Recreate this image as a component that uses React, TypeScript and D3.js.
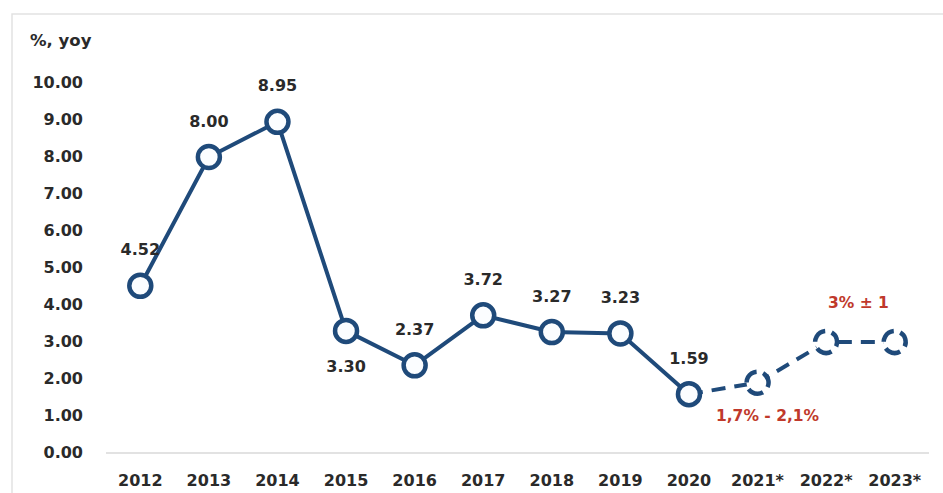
import React from "react";
import * as d3 from "d3";

const categories = ["2012","2013","2014","2015","2016","2017","2018","2019","2020","2021*","2022*","2023*"];
const actualYears = ["2012","2013","2014","2015","2016","2017","2018","2019","2020"];
const actualValues = [4.52, 8.0, 8.95, 3.3, 2.37, 3.72, 3.27, 3.23, 1.59];
const labelBelow = ["2015"];
const forecastYears = ["2020","2021*","2022*","2023*"];
const forecastValues = [1.59, 1.9, 3.0, 3.0];
const yTicks = [0,1,2,3,4,5,6,7,8,9,10];
const forecastNotes = [
  { text: "1,7% - 2,1%", from: "2021*", to: "2021*", value: 1.9, pos: "below" },
  { text: "3% ± 1", from: "2022*", to: "2023*", value: 3.0, pos: "above" },
];

const W = 943, H = 493;
const NAVY = "#1f4a7a";
const TXT = "#2a2a2a";
const RED = "#c0392b";
const FONT = "'DejaVu Sans', sans-serif";

export default function App() {
  const x = d3.scaleBand<string>().domain(categories).range([106, 929]).padding(0);
  const cx = (c: string) => (x(c) as number) + x.bandwidth() / 2;
  const y = d3.scaleLinear().domain([0, 10]).range([453, 83]);

  const line = d3.line<[string, number]>().x(d => cx(d[0])).y(d => y(d[1]));
  const actual = actualYears.map((c, i) => [c, actualValues[i]] as [string, number]);
  const forecast = forecastYears.map((c, i) => [c, forecastValues[i]] as [string, number]);

  return (
    <svg width={W} height={H} style={{ position: "absolute", left: 0, top: 0, background: "#fff" }} fontFamily={FONT}>
      <rect x={12} y={14} width={940} height={500} fill="#fff" stroke="#e2e2e2" strokeWidth={1.5} />
      <text x={30} y={46} fontSize={16.5} fontWeight="bold" fill={TXT}>%, yoy</text>
      {yTicks.map(t => (
        <text key={t} x={83} y={y(t)} textAnchor="end" dominantBaseline="middle" fontSize={16} fontWeight="bold" fill={TXT}>
          {d3.format(".2f")(t)}
        </text>
      ))}
      <line x1={106} x2={929} y1={y(0)} y2={y(0)} stroke="#d9d9d9" strokeWidth={1.5} />
      {categories.map(c => (
        <text key={c} x={cx(c)} y={481} textAnchor="middle" dominantBaseline="middle" fontSize={16} fontWeight="bold" fill={TXT}>
          {c}
        </text>
      ))}
      <path d={line(forecast) || ""} fill="none" stroke={NAVY} strokeWidth={4} strokeDasharray="14,9" />
      <path d={line(actual) || ""} fill="none" stroke={NAVY} strokeWidth={4} strokeLinejoin="round" />
      {actual.map(([c, v]) => (
        <circle key={c} cx={cx(c)} cy={y(v)} r={11} fill="#fbfdff" stroke={NAVY} strokeWidth={4.5} />
      ))}
      {forecast.slice(1).map(([c, v]) => (
        <circle key={c} cx={cx(c)} cy={y(v)} r={11} fill="#fff" stroke={NAVY} strokeWidth={4.5} strokeDasharray="16,7" transform={`rotate(-60 ${cx(c)} ${y(v)})`} />
      ))}
      {actual.map(([c, v]) => {
        const below = labelBelow.includes(c);
        return (
          <text key={c} x={cx(c)} y={y(v) + (below ? 37 : -35)} textAnchor="middle" dominantBaseline="middle" fontSize={16} fontWeight="bold" fill={TXT}>
            {d3.format(".2f")(v)}
          </text>
        );
      })}
      {forecastNotes.map(n => {
        const px = (cx(n.from) + cx(n.to)) / 2 + (n.from === n.to ? 10 : -2);
        const py = y(n.value) + (n.pos === "below" ? 34 : -39);
        return (
          <text key={n.text} x={px} y={py} textAnchor="middle" dominantBaseline="middle" fontSize={15.5} fontWeight="bold" fill={RED}>
            {n.text}
          </text>
        );
      })}
    </svg>
  );
}
